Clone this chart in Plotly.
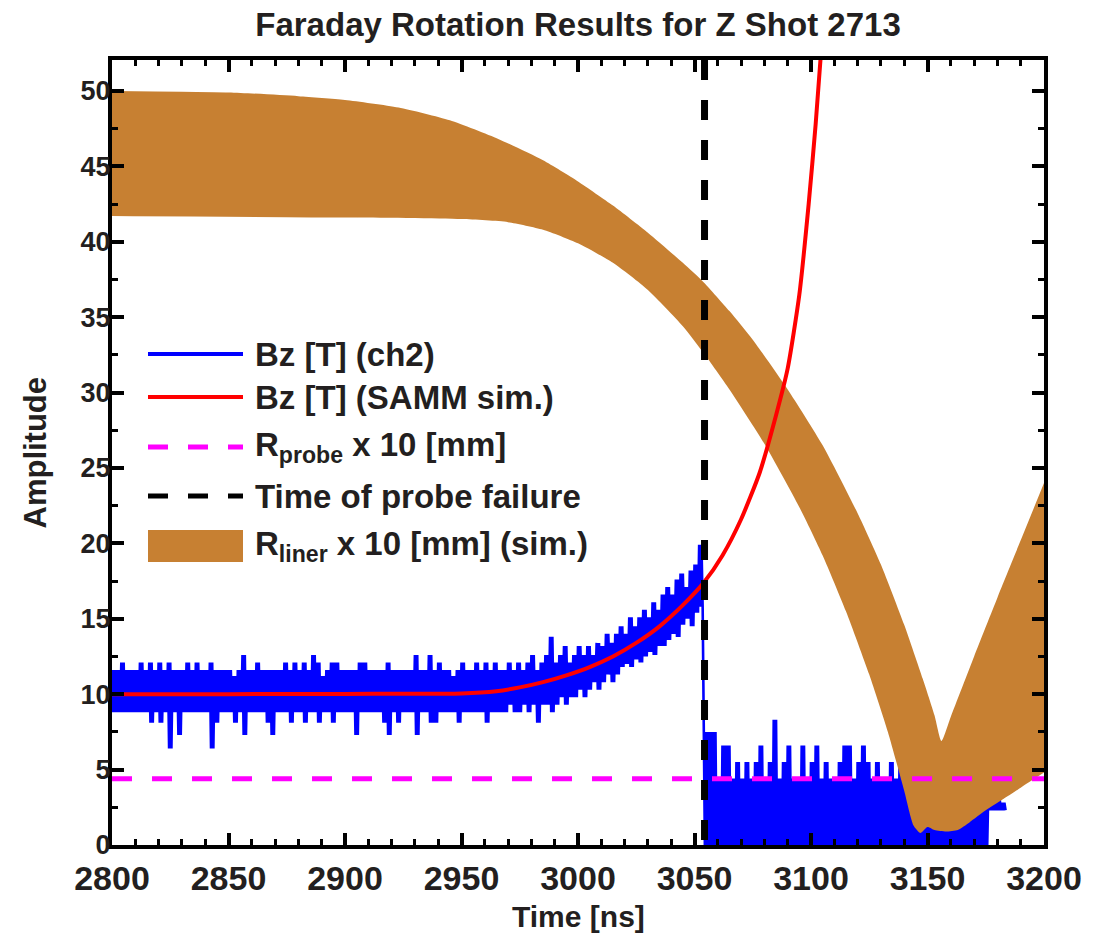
import plotly.graph_objects as go

# ---------------- data ----------------
# Measured Bz (ch2): upper / lower excursion of the digitised trace in 2 ns bins
BZ_BIN_NS = 2.0
bz_pre_t0 = 2800.0
bz_pre_hi = [
    11.6, 11.6, 12.1, 11.6, 11.6, 11.6, 12.1, 11.6, 12.1, 11.6,
    12.1, 11.6, 12.1, 11.6, 11.6, 11.6, 12.1, 11.6, 12.1, 11.6,
    11.6, 12.1, 11.6, 11.6, 11.6, 11.6, 11.2, 11.6, 12.6, 11.6,
    11.6, 12.1, 11.6, 11.6, 11.6, 11.6, 11.6, 12.1, 11.6, 12.1,
    11.6, 12.1, 11.6, 12.6, 12.1, 11.2, 11.6, 12.1, 12.1, 11.6,
    11.6, 11.6, 11.6, 12.1, 12.1, 11.6, 11.6, 11.6, 11.6, 12.1,
    11.6, 11.6, 11.6, 11.6, 11.6, 12.6, 11.6, 11.6, 12.6, 11.6,
    12.1, 11.6, 11.6, 11.2, 11.6, 12.1, 11.6, 11.6, 12.1, 11.6,
    12.1, 11.6, 12.1, 11.6, 11.6, 12.1, 11.6, 12.1, 11.6, 12.1,
    12.6, 11.6, 12.1, 12.6, 13.8, 12.1, 12.6, 13.2, 12.1, 12.6,
    13.2, 12.6, 13.2, 12.6, 13.4, 13.2, 14.0, 13.4, 14.0, 14.5,
    14.0, 15.1, 14.5, 15.1, 15.6, 15.1, 16.1, 15.6, 16.6, 17.1,
    16.6, 17.6, 18.0, 17.1, 18.2, 18.6, 19.9,
]
bz_pre_lo = [
    8.8, 8.8, 8.8, 8.8, 8.8, 8.8, 8.8, 8.8, 8.1, 8.8,
    8.1, 8.8, 6.4, 8.8, 7.3, 8.8, 8.8, 8.8, 8.8, 8.8,
    8.8, 6.4, 8.1, 8.8, 8.8, 8.8, 8.1, 8.8, 7.3, 8.8,
    8.8, 8.8, 8.8, 8.1, 7.3, 8.8, 8.8, 8.8, 8.1, 8.8,
    8.8, 8.1, 8.8, 8.8, 8.1, 8.8, 8.8, 8.1, 8.8, 8.8,
    8.8, 8.8, 7.3, 8.8, 8.8, 8.8, 8.8, 8.8, 8.1, 7.3,
    8.8, 8.1, 8.8, 8.8, 8.8, 7.3, 8.8, 8.8, 8.1, 8.1,
    8.8, 8.8, 8.8, 8.8, 8.1, 8.8, 8.8, 8.8, 8.8, 8.8,
    8.1, 8.8, 8.8, 8.8, 8.8, 9.3, 8.8, 8.8, 9.3, 8.8,
    9.3, 8.1, 9.3, 9.3, 8.8, 9.3, 9.8, 9.3, 9.8, 9.8,
    10.3, 9.8, 10.3, 10.8, 10.3, 10.8, 11.3, 10.8, 11.3, 11.8,
    12.0, 11.8, 12.3, 12.1, 12.5, 12.8, 12.6, 13.2, 13.2, 13.6,
    14.0, 13.8, 14.6, 15.0, 14.5, 15.4, 15.8,
]
# after the probe failure (values below the axis are clipped by the frame)
bz_post_t0 = 3054.0
bz_post_hi = [
    7.5, 7.5, 7.5, 4.4, 6.6, 6.6, 4.4, 5.5, 4.4, 5.5,
    4.4, 5.5, 6.6, 4.4, 5.5, 8.3, 4.4, 5.5, 6.6, 4.4,
    4.4, 6.6, 4.4, 5.5, 6.6, 4.4, 5.5, 4.4, 4.4, 5.5,
    6.6, 6.6, 4.4, 5.5, 6.6, 5.5, 4.4, 5.5, 4.4, 4.4,
    5.5, 4.4, 5.5, 4.4, 4.4, 5.5, 4.4, 4.4, 5.5, 4.4,
    4.4, 5.5, 4.4, 4.4, 4.4, 3.4, 3.4, 4.4, 3.4, 2.8,
    2.8, 2.8, 2.8, 3.0, 2.8,
]
bz_post_lo = [
    -1.0, -1.0, -1.0, -1.0, -1.0, -1.0, -1.0, -1.0, -1.0, -1.0,
    -1.0, -1.0, -1.0, -1.0, -1.0, -1.0, -1.0, -1.0, -1.0, -1.0,
    -1.0, -1.0, -1.0, -1.0, -1.0, -1.0, -1.0, -1.0, -1.0, -1.0,
    -1.0, -1.0, -1.0, -1.0, -1.0, -1.0, -1.0, -1.0, -1.0, -1.0,
    -1.0, -1.0, -1.0, -1.0, -1.0, -1.0, -1.0, -1.0, -1.0, -1.0,
    -1.0, -1.0, -1.0, -1.0, -1.0, -1.0, -1.0, -1.0, -1.0, -1.0,
    -1.0, 2.3, 2.3, 2.3, 2.3,
]

# SAMM simulation of Bz
samm_t = [2800, 2850, 2900, 2950, 2965, 2975, 2985, 2995, 3005, 3015, 3025,
          3035, 3045, 3054, 3062, 3070, 3078, 3085, 3090, 3095, 3099, 3102, 3105]
samm_bz = [10.0, 10.0, 10.02, 10.05, 10.2, 10.45, 10.8, 11.25, 11.8, 12.5, 13.4,
           14.5, 15.9, 17.4, 19.2, 21.6, 24.7, 28.5, 31.6, 36.5, 42.5, 47.8, 54.0]

# simulated liner radius x 10 [mm]: outer and inner surfaces
liner_out_t = [2800, 2850, 2880, 2900, 2923, 2945, 2966, 2985, 3000, 3015, 3030,
               3045, 3054, 3065, 3075, 3090, 3105, 3120, 3130, 3140, 3148, 3153,
               3156, 3160, 3170, 3180, 3190, 3200]
liner_out_r = [50.0, 49.9, 49.65, 49.4, 48.9, 48.05, 46.8, 45.4, 44.0, 42.4, 40.6,
               38.6, 37.3, 35.4, 33.5, 30.2, 26.5, 22.0, 18.6, 14.6, 11.0, 8.6,
               6.9, 8.5, 12.5, 16.4, 20.2, 24.0]
liner_in_t = [2800, 2900, 2950, 2970, 2985, 3000, 3015, 3030, 3045, 3054, 3065,
              3080, 3095, 3105, 3115, 3125, 3133, 3140, 3144, 3147, 3150, 3153,
              3158, 3163, 3168, 3175, 3182, 3190, 3200]
liner_in_r = [41.7, 41.6, 41.5, 41.3, 40.8, 39.9, 38.6, 36.8, 34.4, 32.6, 30.2,
              26.6, 22.4, 19.2, 15.5, 11.3, 7.5, 3.6, 1.3, 0.8, 1.2, 1.0,
              0.9, 1.0, 1.5, 2.3, 3.0, 3.8, 4.8]

probe_r = 4.4          # R_probe x 10 [mm]
t_failure = 3054.3     # time of probe failure [ns]

x_range = [2800, 3200]
y_range = [0, 52.05]
x_ticks = [2800, 2850, 2900, 2950, 3000, 3050, 3100, 3150, 3200]
y_ticks = [0, 5, 10, 15, 20, 25, 30, 35, 40, 45, 50]

legend_labels = [
    "Bz [T] (ch2)",
    "Bz [T] (SAMM sim.)",
    "R<sub>probe</sub> x 10 [mm]",
    "Time of probe failure",
    "R<sub>liner</sub> x 10 [mm] (sim.)",
]

# ---------------- styling ----------------
BLUE = "#0000FF"
RED = "#FF0000"
MAGENTA = "#FF00FF"
BROWN = "#C78032"
INK = "#231F20"
FONT = "Liberation Sans, Arial, Helvetica, sans-serif"

W, H = 1094, 933
L, R, T, B = 112, 50, 60, 88
PW, PH = W - L - R, H - T - B


def px_to_paper(px, py):
    return (px - L) / PW, (H - B - py) / PH


def zigzag(t0, hi, lo):
    """Expand per-bin excursions into the rapidly alternating raw trace."""
    xs, ys = [], []
    for i, (h, l) in enumerate(zip(hi, lo)):
        t = t0 + i * BZ_BIN_NS
        xs += [t, t + 0.5, t + 1.0, t + 1.5]
        ys += [h, l, h, l]
    return xs, ys


pre_x, pre_y = zigzag(bz_pre_t0, bz_pre_hi, bz_pre_lo)
post_x, post_y = zigzag(bz_post_t0, bz_post_hi, bz_post_lo)
bz_x = pre_x + post_x
bz_y = pre_y + post_y

fig = go.Figure()

fig.add_trace(go.Scatter(x=bz_x, y=bz_y, mode="lines",
                         line=dict(color=BLUE, width=2.6),
                         showlegend=False, hoverinfo="skip"))

# liner band: inner surface first, outer surface filled down to it
fig.add_trace(go.Scatter(x=liner_in_t, y=liner_in_r, mode="lines",
                         line=dict(width=0, color=BROWN, shape="spline", smoothing=0.6),
                         showlegend=False, hoverinfo="skip"))
fig.add_trace(go.Scatter(x=liner_out_t, y=liner_out_r, mode="lines",
                         fill="tonexty", fillcolor=BROWN,
                         line=dict(width=0, color=BROWN, shape="spline", smoothing=0.6),
                         showlegend=False, hoverinfo="skip"))

fig.add_trace(go.Scatter(x=samm_t, y=samm_bz, mode="lines",
                         line=dict(color=RED, width=4, shape="spline", smoothing=0.6),
                         showlegend=False, hoverinfo="skip"))

fig.add_trace(go.Scatter(x=x_range, y=[probe_r, probe_r], mode="lines",
                         line=dict(color=MAGENTA, width=5, dash="20px,20px"),
                         showlegend=False, hoverinfo="skip"))

fig.add_trace(go.Scatter(x=[t_failure, t_failure], y=[y_range[1], y_range[0]],
                         mode="lines",
                         line=dict(color="black", width=7, dash="20px,20px"),
                         showlegend=False, hoverinfo="skip"))

axis_common = dict(
    showline=True, linecolor="black", linewidth=4, mirror="allticks",
    ticks="inside", tickcolor="black", tickwidth=3.5, ticklen=12,
    showgrid=False, zeroline=False,
)

fig.update_xaxes(range=x_range, tickvals=x_ticks, ticklabelstandoff=0,
                 tickfont=dict(family=FONT, size=34, color=INK, weight="bold"),
                 minor=dict(ticks="inside", dtick=10, ticklen=6, tickwidth=3,
                            tickcolor="black", showgrid=False),
                 **axis_common)
fig.update_yaxes(range=y_range, tickvals=y_ticks, ticklabelstandoff=-8,
                 tickfont=dict(family=FONT, size=27, color=INK, weight="bold"),
                 minor=dict(ticks="inside", dtick=2.5, ticklen=6, tickwidth=3,
                            tickcolor="black", showgrid=False),
                 **axis_common)

annotations = []
shapes = []

# axis titles
tx, ty = px_to_paper(578, 916)
annotations.append(dict(text="Time [ns]", x=0.5, y=ty, xref="paper", yref="paper",
                        xanchor="center", yanchor="middle", showarrow=False,
                        font=dict(family=FONT, size=30, color=INK, weight="bold")))
ax_, ay_ = px_to_paper(35, 452)
annotations.append(dict(text="Amplitude", x=ax_, y=0.5, xref="paper", yref="paper",
                        xanchor="center", yanchor="middle", showarrow=False,
                        textangle=-90,
                        font=dict(family=FONT, size=31, color=INK, weight="bold")))

# legend block
leg_x0, leg_x1, leg_text_x = 148, 243, 253
row_y = [354, 397, 447, 496, 546]
glyphs = [
    dict(color=BLUE, width=4, dash="solid"),
    dict(color=RED, width=4, dash="solid"),
    dict(color=MAGENTA, width=5, dash="20px,20px"),
    dict(color="black", width=5, dash="20px,20px"),
    None,
]
for label, y_px, g in zip(legend_labels, row_y, glyphs):
    x0, yy = px_to_paper(leg_x0, y_px)
    x1, _ = px_to_paper(leg_x1, y_px)
    if g is None:
        _, ya = px_to_paper(0, y_px - 16)
        _, yb = px_to_paper(0, y_px + 16)
        shapes.append(dict(type="rect", xref="paper", yref="paper",
                           x0=x0, x1=x1, y0=yb, y1=ya,
                           fillcolor=BROWN, line=dict(width=0)))
    else:
        shapes.append(dict(type="line", xref="paper", yref="paper",
                           x0=x0, x1=x1, y0=yy, y1=yy, line=g))
    lx, _ = px_to_paper(leg_text_x, y_px)
    annotations.append(dict(text=label, x=lx, y=yy, xref="paper", yref="paper",
                            xanchor="left", yanchor="middle", showarrow=False,
                            font=dict(family=FONT, size=33, color=INK, weight="bold")))

fig.update_layout(
    width=W, height=H,
    margin=dict(l=L, r=R, t=T, b=B),
    paper_bgcolor="white", plot_bgcolor="white",
    title=dict(text="Faraday Rotation Results for Z Shot 2713",
               x=0.5, xref="paper", xanchor="center",
               y=1 - 24 / H, yref="container", yanchor="middle",
               font=dict(family=FONT, size=33, color=INK, weight="bold")),
    annotations=annotations, shapes=shapes,
    showlegend=False,
)

fig.write_html("out.html")
